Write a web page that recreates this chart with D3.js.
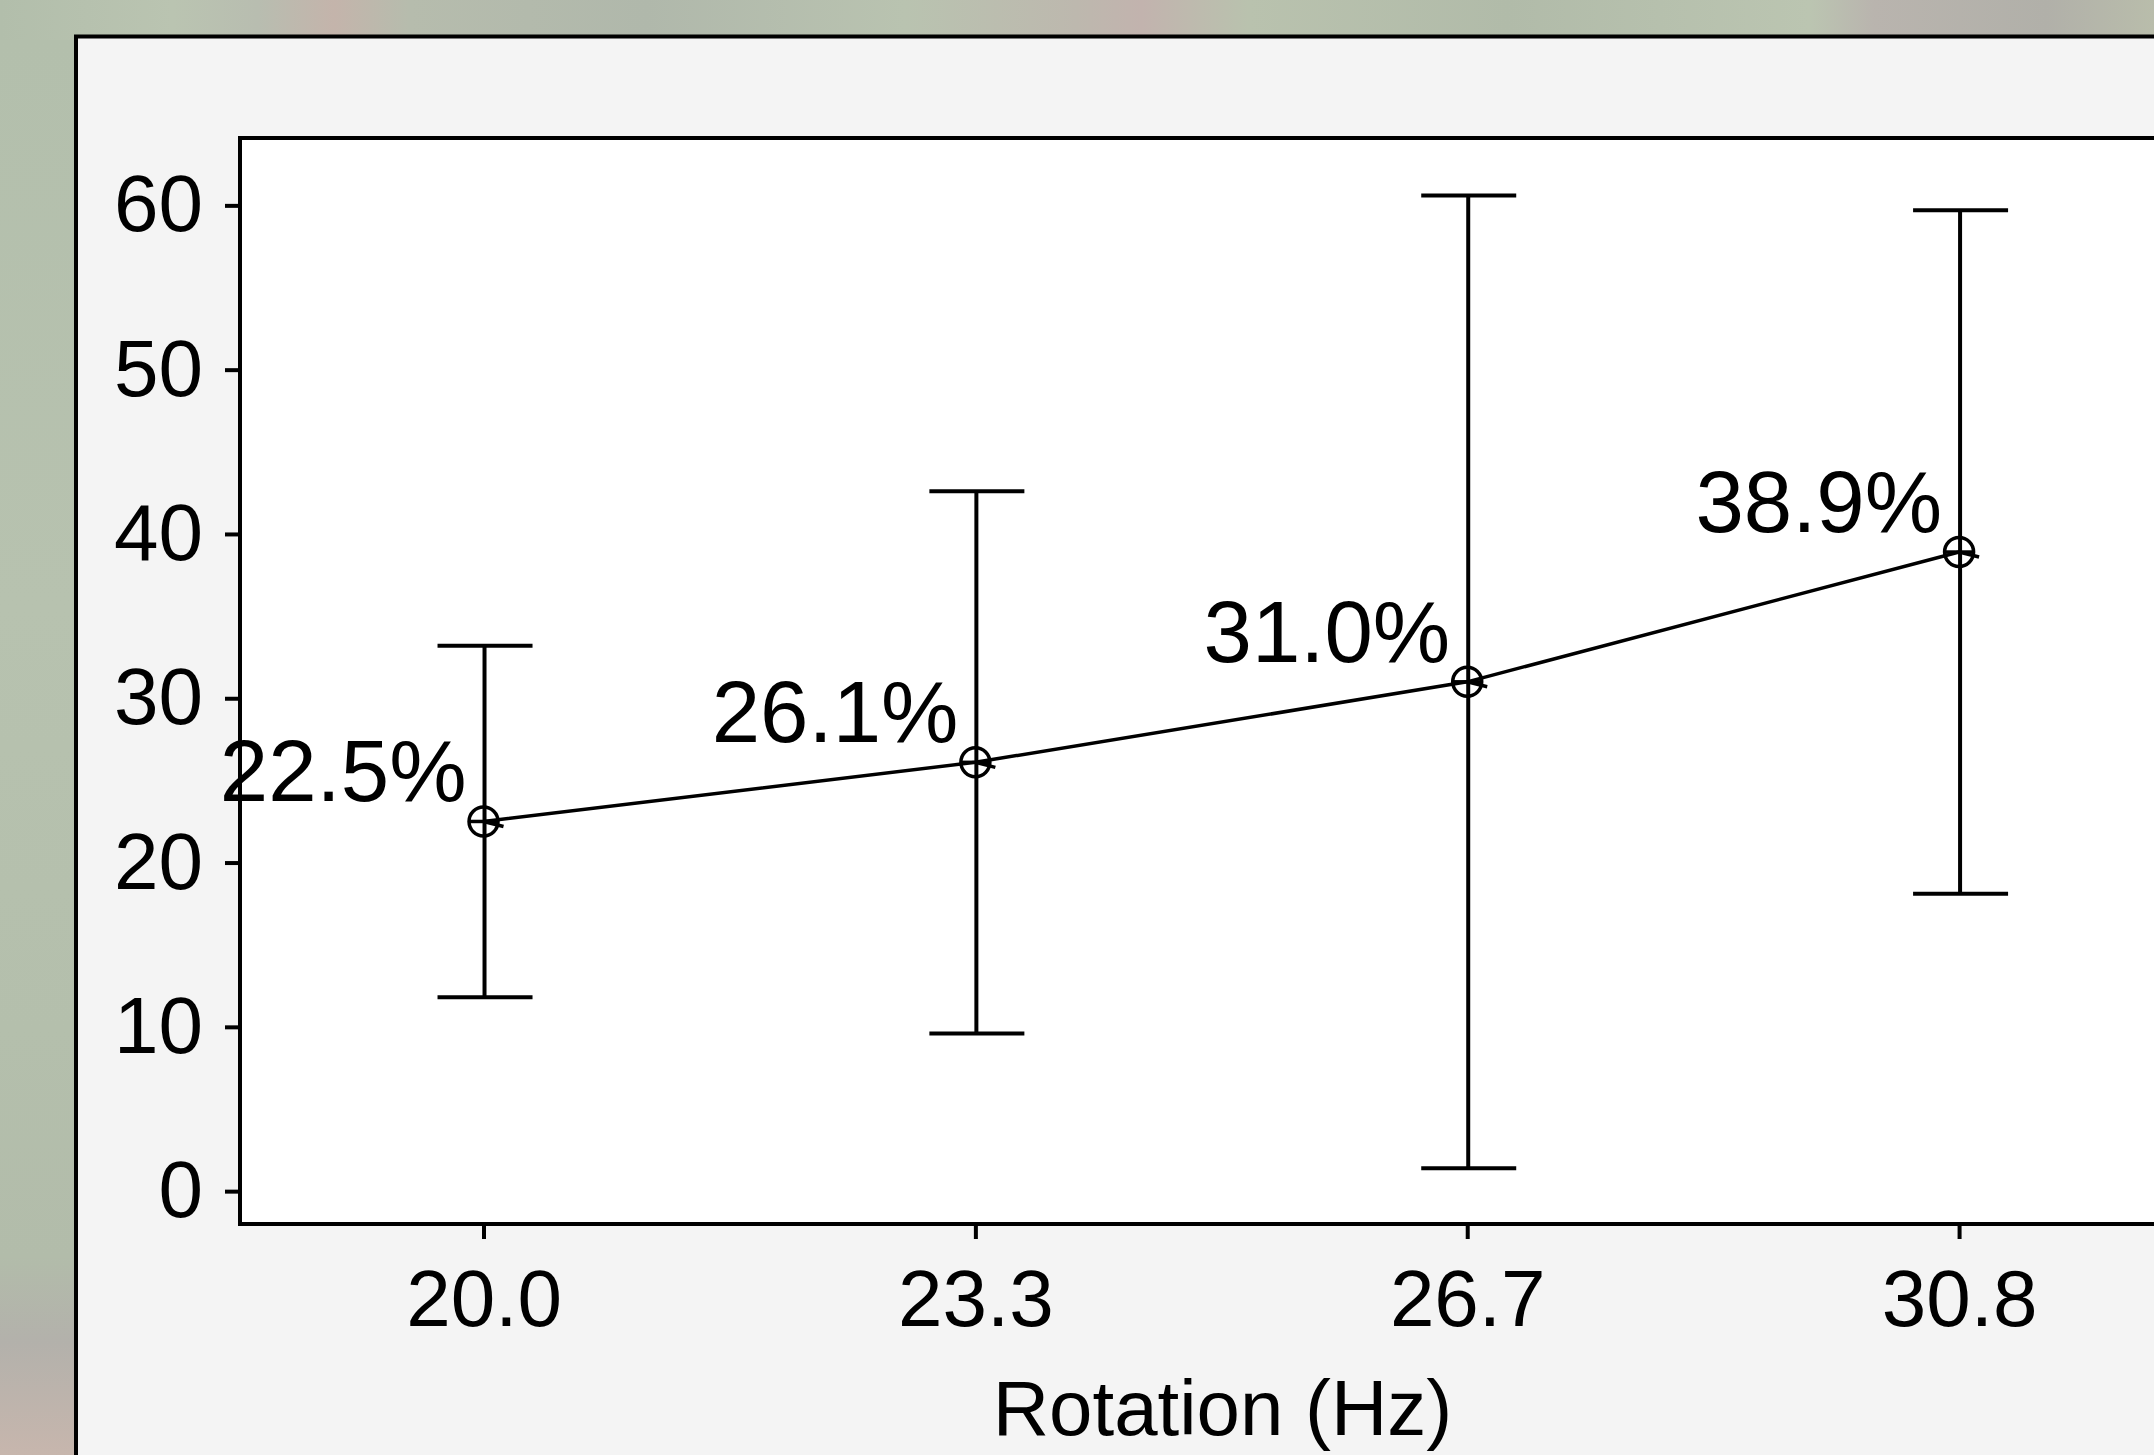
<!DOCTYPE html>
<html>
<head>
<meta charset="utf-8">
<script src="https://cdn.jsdelivr.net/npm/d3@7"></script>
<style>
    html, body { margin: 0; padding: 0; overflow: hidden; background: #b5c1ae; }
    svg { display: block; }
    text { font-family: 'Liberation Sans', Arial, sans-serif; fill: #000; }
</style>
</head>
<body>
<svg id="chart"></svg>
<script>
// chart values
const categories = ['20.0', '23.3', '26.7', '30.8'];
const means = [22.5, 26.1, 31.0, 38.9];
const lower = [11.8, 9.6, 1.4, 18.1];
const upper = [33.2, 42.6, 60.6, 59.7];
const pointLabels = ['22.5%', '26.1%', '31.0%', '38.9%'];
const yTicks = [0, 10, 20, 30, 40, 50, 60];
const xTitle = 'Rotation (Hz)';

const width = 2154;
const height = 1455;
const plot = { left: 240, top: 138, bottom: 1224, right: 2205 };

const svg = d3.select('#chart')
    .attr('width', width)
    .attr('height', height);

// blurred photo behind the chart
const defs = svg.append('defs');
const bgTop = defs.append('linearGradient').attr('id', 'bg-top');
[
    [0, '#b2beab'], [0.08, '#bac4b1'], [0.12, '#b8bdb0'], [0.155, '#c4b4ab'], [0.19, '#b6bcad'],
    [0.3, '#b0b8ab'], [0.42, '#b9c3b0'], [0.5, '#bdb8ae'], [0.53, '#c2b3ae'], [0.58, '#b9c2ae'],
    [0.7, '#b1bba9'], [0.84, '#bbc5b1'], [0.87, '#b9b4ae'], [0.95, '#b1b0a9'], [1, '#b9bdab']
].forEach(([o, c]) => bgTop.append('stop').attr('offset', o).attr('stop-color', c));

const bgLeft = defs.append('linearGradient')
    .attr('id', 'bg-left')
    .attr('x1', 0).attr('y1', 0).attr('x2', 0).attr('y2', 1);
[
    [0, '#b3bfac'], [0.4, '#b7c2af'], [0.7, '#b4bfac'], [0.86, '#b2bcaa'], [0.92, '#b3b1ab'], [1, '#c7b6ad']
].forEach(([o, c]) => bgLeft.append('stop').attr('offset', o).attr('stop-color', c));

svg.append('rect')
    .attr('width', width)
    .attr('height', height)
    .attr('fill', 'url(#bg-top)');

svg.append('rect')
    .attr('y', 40)
    .attr('width', 80)
    .attr('height', height - 40)
    .attr('fill', 'url(#bg-left)');

// outer panel
svg.append('rect')
    .attr('x', 76)
    .attr('y', 36.5)
    .attr('width', 2300)
    .attr('height', 1600)
    .attr('fill', '#f4f4f4')
    .attr('stroke', '#000')
    .attr('stroke-width', 4);

// scales
const x = d3.scalePoint()
    .domain(categories)
    .range([plot.left - 2.4, plot.right])
    .padding(0.5);

const y = d3.scaleLinear()
    .domain([-2, 64.1])
    .range([plot.bottom, plot.top]);

// plot area
svg.append('rect')
    .attr('x', plot.left)
    .attr('y', plot.top)
    .attr('width', 2200)
    .attr('height', plot.bottom - plot.top)
    .attr('fill', '#fff')
    .attr('stroke', '#000')
    .attr('stroke-width', 4);

// axes
const yAxis = svg.append('g')
    .attr('transform', `translate(${plot.left},0)`)
    .call(d3.axisLeft(y).tickValues(yTicks).tickSize(15).tickSizeOuter(0).tickPadding(22));

const xAxis = svg.append('g')
    .attr('transform', `translate(0,${plot.bottom})`)
    .call(d3.axisBottom(x).tickSize(15).tickSizeOuter(0).tickPadding(30));

[yAxis, xAxis].forEach(a => {
    a.select('.domain').remove();
    a.selectAll('line').attr('stroke', '#000').attr('stroke-width', 4);
    a.selectAll('text')
        .attr('fill', '#000')
        .style('font-size', '80px')
        .style('font-family', '\'Liberation Sans\', Arial, sans-serif');
});

svg.append('text')
    .attr('x', (plot.left + plot.right) / 2)
    .attr('y', 1435)
    .attr('text-anchor', 'middle')
    .style('font-size', '78px')
    .text(xTitle);

const rows = categories.map((c, i) => ({
    cat: c, mean: means[i], lo: lower[i], hi: upper[i], label: pointLabels[i]
}));

// error bars
const bars = svg.append('g').attr('class', 'errorbars')
    .attr('stroke', '#000')
    .attr('stroke-width', 4);

bars.selectAll('line.stem')
    .data(rows)
    .enter()
    .append('line')
        .attr('class', 'stem')
        .attr('x1', d => x(d.cat) + 1)
        .attr('x2', d => x(d.cat) + 1)
        .attr('y1', d => y(d.lo))
        .attr('y2', d => y(d.hi));

bars.selectAll('line.cap')
    .data(rows.flatMap(d => [{ cat: d.cat, v: d.lo }, { cat: d.cat, v: d.hi }]))
    .enter()
    .append('line')
        .attr('class', 'cap')
        .attr('x1', d => x(d.cat) - 46)
        .attr('x2', d => x(d.cat) + 49)
        .attr('y1', d => y(d.v))
        .attr('y2', d => y(d.v));

// mean line
svg.append('path')
    .datum(rows)
    .attr('fill', 'none')
    .attr('stroke', '#000')
    .attr('stroke-width', 3.5)
    .attr('d', d3.line().x(d => x(d.cat)).y(d => y(d.mean)));

// markers (circle with cross)
const marks = svg.append('g').attr('class', 'markers')
    .attr('stroke', '#000')
    .attr('stroke-width', 3.5)
    .selectAll('g')
    .data(rows)
    .enter()
    .append('g')
        .attr('transform', d => `translate(${x(d.cat)},${y(d.mean)})`);

marks.append('circle')
    .attr('r', 14.5)
    .attr('fill', 'none');

marks.append('line')
    .attr('x1', -14.5).attr('x2', 14.5)
    .attr('y1', 0).attr('y2', 0);

marks.append('line')
    .attr('x1', 0).attr('x2', 20)
    .attr('y1', 0).attr('y2', 5);

// value labels
svg.append('g').attr('class', 'labels')
    .selectAll('text')
    .data(rows)
    .enter()
    .append('text')
        .attr('x', d => x(d.cat) - 17)
        .attr('y', d => y(d.mean) - 20)
        .attr('text-anchor', 'end')
        .style('font-size', '87px')
        .text(d => d.label);
</script>
</body>
</html>
